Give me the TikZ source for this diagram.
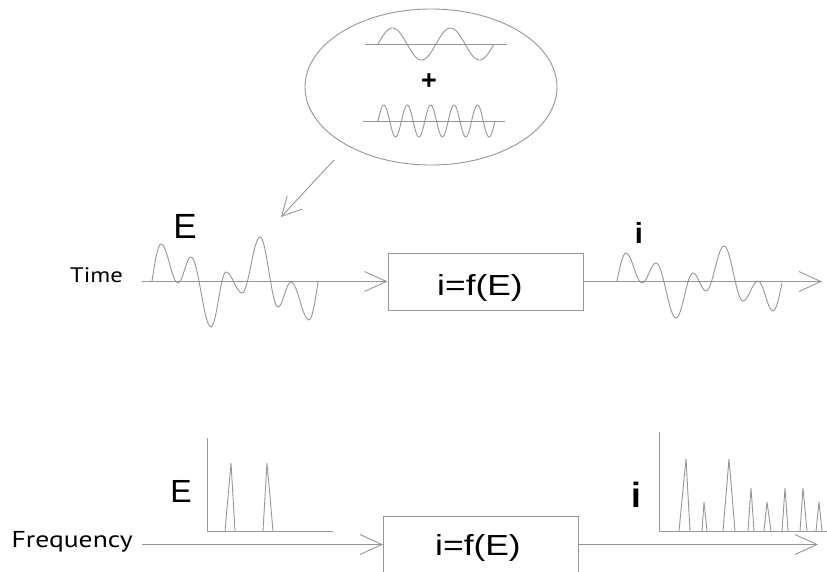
\documentclass[tikz,border=0pt]{standalone}
\usepackage{fontspec}
\setmainfont{Liberation Sans}
\newfontfamily\ptsans{PT Sans}
\usepackage{graphicx}
\usetikzlibrary{arrows.meta,shapes.geometric}
\definecolor{lc}{RGB}{150,150,150}
\tikzset{
  ln/.style={draw=lc, line width=0.9pt, line join=round},
  arr/.style={ln, -{Straight Barb[length=22pt,width=20pt,line width=0.9pt]}},
  arrsm/.style={ln, -{Straight Barb[length=19pt,width=20pt,line width=0.9pt]}},
  fbox/.style={draw=lc, line width=0.9pt, minimum width=195pt, minimum height=57pt, inner sep=0pt},
  lab/.style={text=black, inner sep=0pt},
}
\begin{document}
\begin{tikzpicture}[x=1pt, y=-1pt]
\useasboundingbox (0,0) rectangle (827,571);
\clip (0,0) rectangle (827,571);
% ---- bubble with two sine waves
\node[ln, ellipse, minimum width=252pt, minimum height=156pt, inner sep=0pt] (bubble) at (431,87) {};
\draw[ln] (365,44) -- (507,44);
\draw[ln] plot[domain=0:2, samples=120, smooth] ({378+58*\x},{44-16*sin(360*\x)});
\node[lab, font=\fontsize{27}{27}\selectfont\bfseries] (plus) at (429,82) {+};
\draw[ln] (363,121) -- (505,121);
\draw[ln] plot[domain=0:5, samples=250, smooth] ({378+23.4*\x},{121-16*sin(360*\x)});
\coordinate (ea) at (334,160);
\coordinate (eb) at (281,217);
\draw[arrsm] (ea) -- (eb);
% ---- time domain row
\node[lab, anchor=base east] (time) at (123,282) {\ptsans\fontsize{21}{21}\selectfont\scalebox{1.17}[1]{Time}};
\node[fbox] (box1) at (485.5,281.5) {};
\node[lab, anchor=base] (f1) at (480,295) {\fontsize{29}{29}\selectfont\scalebox{1.22}[1]{i=f(E)}};
\coordinate (t0) at (142,281.5);
\coordinate (t1) at (822,281.5);
\draw[arr] (t0) -- (t0 -| box1.west);
\draw[arr] (box1.east) -- (t1);
\node[lab, anchor=base] (Et) at (185,238) {\fontsize{35}{35}\selectfont E};
\node[lab, anchor=base] (it) at (639,243) {\fontsize{29}{29}\selectfont\bfseries i};
\draw[ln] (152,281) sin (161,244) cos (169.5,263.5) sin (178,283) cos (184.5,270) sin (191,257)
  cos (201,292) sin (211,327) cos (218.5,299.5) sin (226,272) cos (234,282.5) sin (242,293)
  cos (251,265) sin (260,237) cos (269,272) sin (278,307) cos (284.5,294.5) sin (291,282)
  cos (300,301) sin (309,320) cos (318,282);
\draw[ln] (617,281) sin (626,253) cos (634,268) sin (642,283) cos (649,273) sin (656,263)
  cos (666,290.5) sin (676,318) cos (684.5,295.5) sin (693,273) cos (699.5,282) sin (706,291)
  cos (715,268.5) sin (724,246) cos (733.5,273.5) sin (743,301) cos (750.5,291) sin (758,281)
  cos (765.5,296) sin (773,311) cos (782,283);
% ---- frequency domain row
\node[lab, anchor=base east] (freq) at (133,547) {\ptsans\fontsize{23}{23}\selectfont\scalebox{1.2}[1]{Frequency}};
\node[fbox] (box2) at (481,544.5) {};
\node[lab, anchor=base] (f2) at (478,555) {\fontsize{29}{29}\selectfont\scalebox{1.22}[1]{i=f(E)}};
\coordinate (f0) at (142,544.5);
\coordinate (f3) at (818,544.5);
\draw[arr] (f0) -- (f0 -| box2.west);
\draw[arr] (box2.east) -- (f3);
\node[lab, anchor=base] (Eb) at (181,502) {\fontsize{32}{32}\selectfont E};
\node[lab, anchor=base] (ib) at (636,507) {\fontsize{35}{35}\selectfont\bfseries i};
% E spectrum
\draw[ln] (207,438) -- (207,531) -- (333,531);
\draw[ln] (225,531) -- (231,463) -- (235,531);
\draw[ln] (263,531) -- (267,463) -- (273,531);
% i spectrum
\draw[ln] (659,432) -- (659,531) -- (827,531);
\draw[ln] (679,531) -- (686,459) -- (690,531);
\draw[ln] (702,531) -- (704,502) -- (707,531);
\draw[ln] (723,531) -- (729,459) -- (735,531);
\draw[ln] (748,531) -- (751,488) -- (754,531);
\draw[ln] (764,531) -- (767,502) -- (771,531);
\draw[ln] (782,531) -- (785,488) -- (788,531);
\draw[ln] (800,531) -- (803,488) -- (807,531);
\draw[ln] (816,531) -- (819,502) -- (822,531);
\end{tikzpicture}
\end{document}
